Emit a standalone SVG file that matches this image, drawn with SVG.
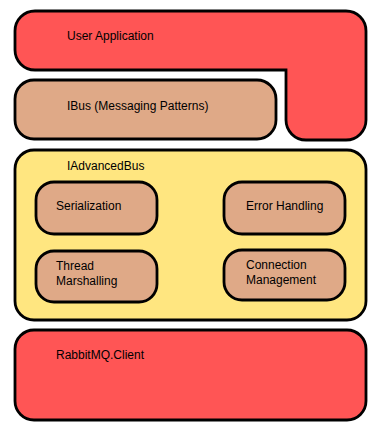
<svg xmlns="http://www.w3.org/2000/svg" width="383" height="438" viewBox="0 0 383 438">
<style>
.s{stroke:#000;stroke-width:2.8;stroke-linejoin:miter}
.red{fill:#ff5555}
.tan{fill:#dfa987}
.yel{fill:#ffe680}
text{font-family:"Liberation Sans",Arial,sans-serif;font-size:12px;fill:#000}
</style>
<rect width="383" height="438" fill="#fff"/>
<g id="user-application">
<path class="s red" d="M35,11 H346 A20,20 0 0 1 366,31 V120 A20,20 0 0 1 346,140 H306 A20,20 0 0 1 286,120 V70 H35 A20,20 0 0 1 15,50 V31 A20,20 0 0 1 35,11 Z"/>
<text x="67" y="40">User Application</text>
</g>
<g id="ibus">
<rect class="s tan" x="15" y="80" width="261" height="59" rx="19" ry="19"/>
<text x="67" y="110">IBus (Messaging Patterns)</text>
</g>
<g id="iadvancedbus">
<rect class="s yel" x="15" y="150" width="351" height="170" rx="19" ry="19"/>
<text x="67" y="170">IAdvancedBus</text>
</g>
<g id="serialization">
<rect class="s tan" x="36" y="182" width="121" height="52" rx="18" ry="18"/>
<text x="56" y="210">Serialization</text>
</g>
<g id="error-handling">
<rect class="s tan" x="224" y="182" width="121" height="52" rx="18" ry="18"/>
<text x="246" y="210">Error Handling</text>
</g>
<g id="thread-marshalling">
<rect class="s tan" x="36" y="251" width="121" height="51" rx="18" ry="18"/>
<text x="56" y="270">Thread</text>
<text x="56" y="285">Marshalling</text>
</g>
<g id="connection-management">
<rect class="s tan" x="224" y="250" width="121" height="50" rx="18" ry="18"/>
<text x="246" y="269">Connection</text>
<text x="246" y="284">Management</text>
</g>
<g id="rabbitmq-client">
<rect class="s red" x="15" y="330" width="351" height="90" rx="19" ry="19"/>
<text x="56" y="359">RabbitMQ.Client</text>
</g>
<g id="connectors"></g>
</svg>
